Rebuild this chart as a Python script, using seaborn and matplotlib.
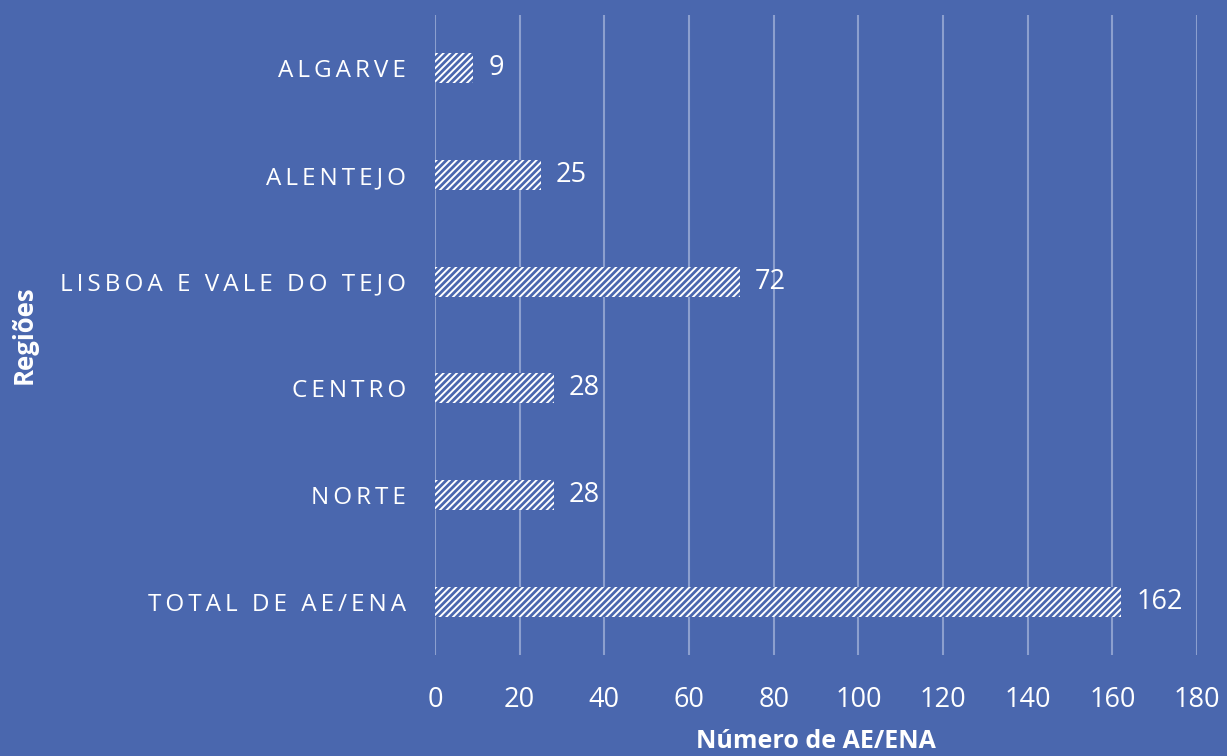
import matplotlib
matplotlib.use("Agg")
import matplotlib.pyplot as plt
import seaborn as sns

# data (top to bottom)
regioes = ["ALGARVE", "ALENTEJO", "LISBOA E VALE DO TEJO", "CENTRO", "NORTE", "TOTAL DE AE/ENA"]
numero = [9, 25, 72, 28, 28, 162]
x_ticks = [0, 20, 40, 60, 80, 100, 120, 140, 160, 180]

bg = "#4A67AE"
sns.set_style("white")
plt.rcParams["font.family"] = ["Open Sans", "DejaVu Sans"]
plt.rcParams["hatch.linewidth"] = 2.0

fig = plt.figure(figsize=(12.27, 7.56), dpi=100, facecolor=bg)
ax = fig.add_axes([0.3545, 0.1336, 0.6211, 0.8466])
ax.set_facecolor(bg)

sns.barplot(x=numero, y=regioes, orient="h", color="white", width=0.28,
            saturation=1, ax=ax, zorder=3)
for p in ax.patches:
    p.set_hatch("/////")
    p.set_edgecolor(bg)
    p.set_linewidth(0)

ax.bar_label(ax.containers[0], labels=[str(v) for v in numero], padding=11,
             color="white", fontsize=19.5)

ax.set_xlim(0, 180)
ax.set_ylim(len(regioes) - 0.5, -0.5)
ax.set_xticks(x_ticks)
ax.xaxis.grid(True, color="#A3B3DA", linewidth=1.5, alpha=0.75, zorder=0)
ax.yaxis.grid(False)
for s in ax.spines.values():
    s.set_visible(False)

spaced = ["\u2009".join(list(r)) for r in regioes]
ax.set_yticks(range(len(regioes)))
ax.set_yticklabels(spaced)
ax.tick_params(axis="y", length=0, pad=21, labelsize=17.5, labelcolor="white")
ax.tick_params(axis="x", length=0, pad=22, labelsize=19.5, labelcolor="white")

ax.set_xlabel("Número de AE/ENA", color="white", fontsize=18, fontweight="bold", labelpad=11)
ax.set_ylabel("Regiões", color="white", fontsize=18.5, fontweight="bold")
ax.yaxis.set_label_coords(-0.522, 0.5)

fig.savefig("out.png", dpi=100, facecolor=bg)
